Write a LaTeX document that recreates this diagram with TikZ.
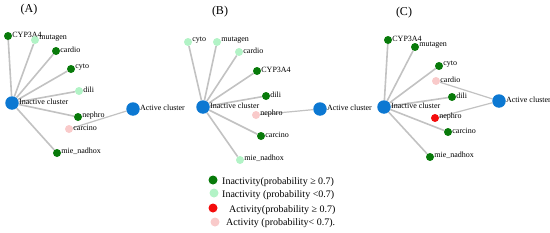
\documentclass[tikz,border=0pt]{standalone}
\usepackage{fontspec}
\setmainfont{Liberation Serif}
\usepackage{tikz}
\usetikzlibrary{positioning, backgrounds}
\definecolor{hiIn}{HTML}{087A0A}
\definecolor{loIn}{HTML}{B2F3C6}
\definecolor{hiAc}{HTML}{F40C0C}
\definecolor{loAc}{HTML}{F9CACA}
\definecolor{clusBlue}{HTML}{0C78D2}
\colorlet{edge}{black!24}
\tikzset{
  mol/.style     ={circle, inner sep=0pt, minimum size=8pt,
                   label distance=-2pt},
  molHiIn/.style ={mol, fill=hiIn},
  molLoIn/.style ={mol, fill=loIn},
  molHiAc/.style ={mol, fill=hiAc},
  molLoAc/.style ={mol, fill=loAc},
  clus/.style    ={circle, inner sep=0pt, minimum size=13.5pt,
                   fill=clusBlue, label distance=-5.5pt},
  every label/.style={font=\fontsize{8}{9}\selectfont, inner sep=0pt,
                   yshift=1.5pt},
  hdr/.style     ={font=\fontsize{12}{14}\selectfont, inner sep=0pt},
  inlink/.style  ={edge, line width=1.6pt},
  aclink/.style  ={edge, line width=1.2pt},
  keydot/.style  ={circle, inner sep=0pt, minimum size=9pt},
  keytxt/.style  ={font=\fontsize{10}{12}\selectfont, inner sep=0pt,
                   anchor=west},
}
\begin{document}
\begin{tikzpicture}[x=1pt, y=-1pt]
\useasboundingbox (0,0) rectangle (550,233);

% --- panel A ---
\node[hdr] (hA) at (29,10) {(A)};
\node[clus, label=right:Inactive cluster] (inA) at (12,103) {};
\node[clus, label=right:Active cluster]   (acA) at (133,109) {};
\node[molHiIn, label=right:CYP3A4]      (cypA) at (8,36) {};
\node[molLoIn, label=right:mutagen]     (mutA) at (35,40) {};
\node[molHiIn, label=right:cardio]      (carA) at (56,51) {};
\node[molHiIn, label=right:cyto]        (cytA) at (71,69) {};
\node[molLoIn, label=right:dili]        (dilA) at (79,91) {};
\node[molHiIn, label=right:nephro]      (nepA) at (78,117) {};
\node[molLoAc, label=right:carcino]     (crcA) at (69,129) {};
\node[molHiIn, label=right:mie\_nadhox] (mieA) at (57,153) {};

% --- panel B ---
\node[hdr] (hB) at (220,12) {(B)};
\node[clus, label=right:Inactive cluster] (inB) at (203,107) {};
\node[clus, label=right:Active cluster]   (acB) at (320,109) {};
\node[molLoIn, label=right:cyto]        (cytB) at (188,42) {};
\node[molLoIn, label=right:mutagen]     (mutB) at (217,42) {};
\node[molLoIn, label=right:cardio]      (carB) at (239,52) {};
\node[molHiIn, label=right:CYP3A4]      (cypB) at (257,71) {};
\node[molHiIn, label=right:dili]        (dilB) at (266,96) {};
\node[molLoAc, label=right:nephro]      (nepB) at (256,115) {};
\node[molHiIn, label=right:carcino]     (crcB) at (261,136) {};
\node[molLoIn, label=right:mie\_nadhox] (mieB) at (240,160) {};

% --- panel C ---
\node[hdr] (hC) at (404,13) {(C)};
\node[clus, label=right:Inactive cluster] (inC) at (384,107) {};
\node[clus, label=right:Active cluster]   (acC) at (499,101) {};
\node[molHiIn, label=right:CYP3A4]      (cypC) at (388,40) {};
\node[molHiIn, label=right:mutagen]     (mutC) at (415,47) {};
\node[molHiIn, label=right:cyto]        (cytC) at (439,66) {};
\node[molLoAc, label=right:cardio]      (carC) at (436,81) {};
\node[molHiIn, label=right:dili]        (dilC) at (452,97) {};
\node[molHiAc, label=right:nephro]      (nepC) at (435,118) {};
\node[molHiIn, label=right:carcino]     (crcC) at (448,132) {};
\node[molHiIn, label=right:mie\_nadhox] (mieC) at (430,157) {};

% --- links ---
\begin{scope}[on background layer]
  \foreach \t in {cypA,mutA,carA,cytA,dilA,nepA,mieA}
    \draw[inlink] (inA) -- (\t);
  \draw[aclink] (acA) -- (crcA);
  \foreach \t in {cytB,mutB,carB,cypB,dilB,crcB,mieB}
    \draw[inlink] (inB) -- (\t);
  \draw[aclink] (acB) -- (nepB);
  \foreach \t in {cypC,mutC,cytC,dilC,crcC,mieC}
    \draw[inlink] (inC) -- (\t);
  \draw[aclink] (acC) -- (carC);
  \draw[aclink] (acC) -- (nepC);
\end{scope}

% --- legend ---
\node[keydot, fill=hiIn] (k1) at (213,180) {};
\node[keydot, fill=loIn] (k2) at (214,193) {};
\node[keydot, fill=hiAc] (k3) at (213,208) {};
\node[keydot, fill=loAc] (k4) at (215,222) {};
\node[keytxt] (k1t) at (222,182) {Inactivity(probability ≥ 0.7)};
\node[keytxt] (k2t) at (222,195) {Inactivity (probability <0.7)};
\node[keytxt] (k3t) at (229,210) {Activity(probability ≥ 0.7)};
\node[keytxt] (k4t) at (226,223) {Activity (probability< 0.7).};

\end{tikzpicture}
\end{document}
